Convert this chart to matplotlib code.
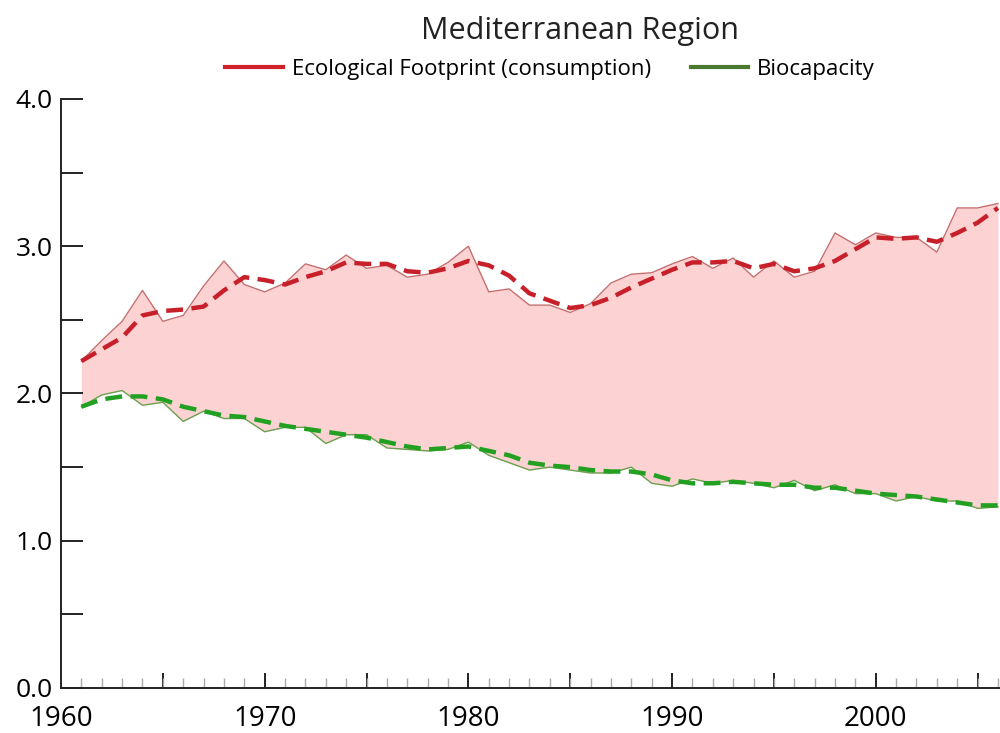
import matplotlib
matplotlib.use("Agg")
import matplotlib.pyplot as plt
from matplotlib.lines import Line2D
from matplotlib.ticker import MultipleLocator

plt.rcParams['font.family'] = ['Open Sans', 'DejaVu Sans']

years = list(range(1961, 2007))

footprint = [2.22, 2.36, 2.49, 2.70, 2.49, 2.53, 2.73, 2.90, 2.74, 2.69,
             2.75, 2.88, 2.84, 2.94, 2.85, 2.87, 2.79, 2.81, 2.89, 3.00,
             2.69, 2.71, 2.60, 2.60, 2.55, 2.61, 2.75, 2.81, 2.82, 2.88,
             2.93, 2.85, 2.92, 2.79, 2.90, 2.79, 2.83, 3.09, 3.01, 3.09,
             3.06, 3.06, 2.96, 3.26, 3.26, 3.29]

footprint_trend = [2.22, 2.30, 2.38, 2.53, 2.56, 2.57, 2.59, 2.70, 2.79, 2.77,
                   2.74, 2.79, 2.83, 2.89, 2.88, 2.88, 2.83, 2.82, 2.85, 2.90,
                   2.87, 2.80, 2.68, 2.63, 2.58, 2.60, 2.65, 2.72, 2.78, 2.84,
                   2.89, 2.89, 2.90, 2.85, 2.88, 2.83, 2.85, 2.90, 2.98, 3.06,
                   3.05, 3.06, 3.03, 3.09, 3.16, 3.26]

biocapacity = [1.91, 1.99, 2.02, 1.92, 1.94, 1.81, 1.88, 1.83, 1.83, 1.74,
               1.77, 1.77, 1.66, 1.72, 1.72, 1.63, 1.62, 1.61, 1.62, 1.67,
               1.58, 1.53, 1.48, 1.50, 1.48, 1.46, 1.46, 1.50, 1.39, 1.37,
               1.42, 1.39, 1.41, 1.39, 1.36, 1.41, 1.34, 1.38, 1.32, 1.32,
               1.27, 1.30, 1.27, 1.27, 1.22, 1.23]

biocapacity_trend = [1.91, 1.96, 1.98, 1.98, 1.96, 1.91, 1.88, 1.85, 1.84, 1.81,
                     1.78, 1.76, 1.74, 1.72, 1.70, 1.67, 1.64, 1.62, 1.63, 1.64,
                     1.61, 1.58, 1.53, 1.51, 1.50, 1.48, 1.47, 1.47, 1.45, 1.41,
                     1.39, 1.39, 1.40, 1.39, 1.38, 1.38, 1.36, 1.36, 1.34, 1.32,
                     1.31, 1.30, 1.28, 1.26, 1.24, 1.24]

title = "Mediterranean Region"
labels = ["Ecological Footprint (consumption)", "Biocapacity"]
x_tick_labels = [1960, 1970, 1980, 1990, 2000]
y_tick_values = [0.0, 1.0, 2.0, 3.0, 4.0]

fig = plt.figure(figsize=(10, 7.33), dpi=100)
ax = fig.add_axes([0.061, 0.0614, 0.939, 0.8036])

ax.fill_between(years, biocapacity, footprint, color='#fdd2d2', linewidth=0, zorder=1)
ax.plot(years, footprint, color='#c47070', linewidth=1.0, zorder=2)
ax.plot(years, biocapacity, color='#6aa050', linewidth=1.0, zorder=2)
ax.plot(years, footprint_trend, color='#c8202a', linewidth=3.2,
        linestyle=(0, (3.8, 1.9)), zorder=3)
ax.plot(years, biocapacity_trend, color='#22a022', linewidth=3.2,
        linestyle=(0, (3.8, 1.9)), zorder=3)

ax.set_xlim(1960, 2006.1)
ax.set_ylim(0, 4)

for s in ['top', 'right']:
    ax.spines[s].set_visible(False)
for s in ['left', 'bottom']:
    ax.spines[s].set_linewidth(1.4)
    ax.spines[s].set_color('#222222')

ax.yaxis.set_major_locator(MultipleLocator(1.0))
ax.yaxis.set_minor_locator(MultipleLocator(0.5))
ax.set_yticks(y_tick_values)
ax.set_yticklabels([f"{v:.1f}" for v in y_tick_values])
ax.tick_params(axis='y', which='both', direction='in', length=16, width=1.4,
               color='#222222', labelsize=19, pad=6)

ax.set_xticks(x_tick_labels)
ax.set_xticklabels([str(v) for v in x_tick_labels])
ax.tick_params(axis='x', which='major', direction='in', length=0, labelsize=20, pad=12)
ax.xaxis.set_minor_locator(MultipleLocator(1))
ax.tick_params(axis='x', which='minor', direction='in', length=7, width=1.0,
               color='#aaaaaa')
# Black 5-year ticks drawn as secondary ticks
sec = ax.secondary_xaxis('bottom')
sec.set_xticks(list(range(1965, 2006, 5)))
sec.set_xticklabels([])
sec.tick_params(axis='x', direction='in', length=11, width=1.4, color='#222222')
sec.spines['bottom'].set_visible(False)

fig.text(0.58, 0.958, title, ha='center', va='center', fontsize=22, color='#222222')

handles = [Line2D([], [], color='#d0202a', linewidth=3),
           Line2D([], [], color='#4a7a30', linewidth=3)]
fig.legend(handles, labels, loc='center', bbox_to_anchor=(0.55, 0.905), ncol=2,
           frameon=False, fontsize=16, handlelength=2.6, handletextpad=0.4,
           columnspacing=1.8)

fig.savefig('out.png', dpi=100)
